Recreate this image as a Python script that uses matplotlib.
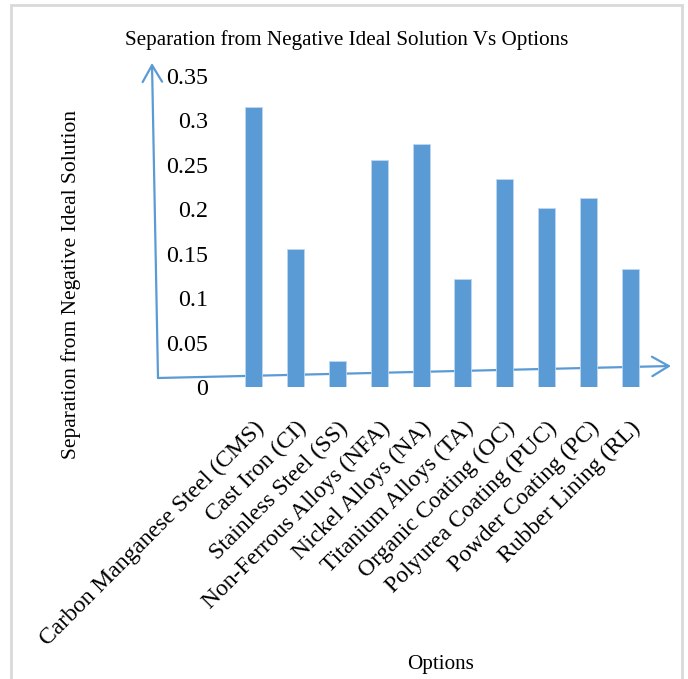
import matplotlib
matplotlib.use("Agg")
import matplotlib.pyplot as plt
from matplotlib.patches import Rectangle

plt.rcParams["font.family"] = ["Liberation Serif", "DejaVu Serif"]

options = [
    "Carbon Manganese Steel (CMS)",
    "Cast Iron (CI)",
    "Stainless Steel (SS)",
    "Non-Ferrous Alloys (NFA)",
    "Nickel Alloys (NA)",
    "Titanium Alloys (TA)",
    "Organic Coating (OC)",
    "Polyurea Coating (PUC)",
    "Powder Coating (PC)",
    "Rubber Lining (RL)",
]
separation = [0.315, 0.155, 0.029, 0.255, 0.274, 0.121, 0.234, 0.202, 0.213, 0.133]
y_ticks = [0, 0.05, 0.1, 0.15, 0.2, 0.25, 0.3, 0.35]
y_tick_labels = ["0", "0.05", "0.1", "0.15", "0.2", "0.25", "0.3", "0.35"]

W, H = 688, 679
blue = "#5B9BD5"

fig = plt.figure(figsize=(W / 100, H / 100), dpi=100)

# plot area in pixel coords (left, bottom, width, height)
left, bottom, width, height = 233, 292, 418, 311
ax = fig.add_axes([left / W, bottom / H, width / W, height / H])

x = range(len(options))
ax.bar(x, separation, width=0.41, color=blue, edgecolor="#BDD7EE", linewidth=0.6, zorder=3)
ax.set_xlim(-0.5, len(options) - 0.5)
ax.set_ylim(0, 0.35)
ax.set_yticks(y_ticks)
ax.set_yticklabels(y_tick_labels, fontsize=17.3)
ax.set_xticks(list(x))
ax.set_xticklabels(options, fontsize=17, rotation=45, ha="right", va="top",
                   rotation_mode="anchor")
ax.tick_params(axis="y", length=0, pad=18)
ax.tick_params(axis="x", length=0, pad=22)
for s in ax.spines.values():
    s.set_visible(False)
ax.patch.set_alpha(0)

# hand-drawn style axis arrows (figure pixels, origin bottom-left)
def arrow(x0, y0, x1, y1):
    ax.annotate("", xy=(x1, y1), xytext=(x0, y0),
                xycoords="figure pixels", textcoords="figure pixels",
                arrowprops=dict(arrowstyle="->,head_length=0.6,head_width=0.35",
                                color=blue, lw=1.6, mutation_scale=20,
                                shrinkA=0, shrinkB=0),
                zorder=2, annotation_clip=False)

arrow(158, H - 378, 152, H - 63)
arrow(158, H - 378, 671, H - 366)

fig.text(347 / W, 1 - 40 / H, "Separation from Negative Ideal Solution Vs Options",
         fontsize=15.2, ha="center", va="center")
fig.text(71 / W, 1 - 284 / H, "Separation from Negative Ideal Solution",
         fontsize=15.5, rotation=90, ha="center", va="center")
fig.text(441 / W, 1 - 665 / H, "Options", fontsize=15.2, ha="center", va="center")

# outer frame, open at the bottom
fig.add_artist(Rectangle((11 / W, -0.05), 671 / W, 1.05 - 5 / H,
                         transform=fig.transFigure, fill=False,
                         edgecolor="#D9D9D9", linewidth=2))

fig.savefig("out.png", dpi=100)
